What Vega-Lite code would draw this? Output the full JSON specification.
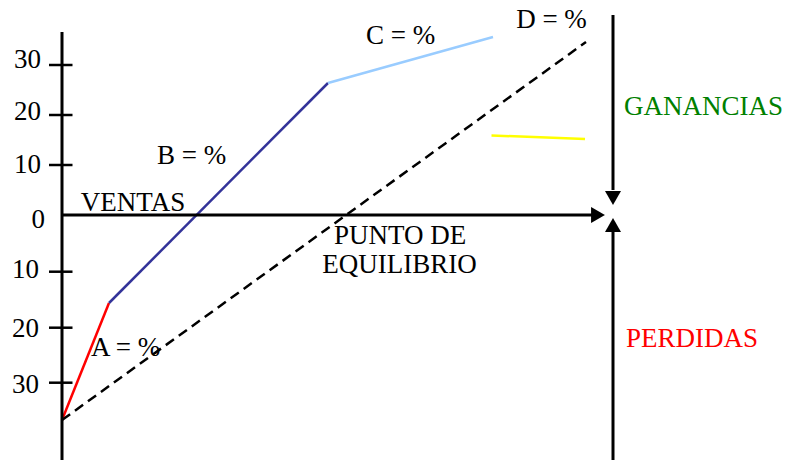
{
  "$schema": "https://vega.github.io/schema/vega-lite/v6.json",
  "width": 786,
  "height": 460,
  "padding": 0,
  "autosize": {"type": "none"},
  "background": "white",
  "config": {"view": {"stroke": null}},
  "datasets": {
    "segments": [
      {"seg": "A", "x": 0, "y": -41, "x2": 9.4, "y2": -17.6},
      {"seg": "B", "x": 9.4, "y": -17.6, "x2": 53.2, "y2": 26.4},
      {"seg": "C", "x": 53.2, "y": 26.4, "x2": 86.2, "y2": 35.6},
      {"seg": "E", "x": 85.9, "y": 15.9, "x2": 104.6, "y2": 15.2}
    ],
    "dashed": [
      {"seg": "D", "x": 0, "y": -41, "x2": 104.8, "y2": 34.6}
    ],
    "axes": [
      {"name": "eje y", "x": 0, "y": 36.6, "x2": 0, "y2": -49},
      {"name": "ventas", "x": 0, "y": 0, "x2": 106, "y2": 0},
      {"name": "ganancias", "x": 110.2, "y": 40, "x2": 110.2, "y2": 5},
      {"name": "perdidas", "x": 110.2, "y": -3.2, "x2": 110.2, "y2": -49}
    ],
    "arrows": [
      {"dir": "right", "x": 107.2, "y": 0},
      {"dir": "down", "x": 110.2, "y": 3.4},
      {"dir": "up", "x": 110.2, "y": -2.0}
    ],
    "ticks": [
      {"v": 30}, {"v": 20}, {"v": 10},
      {"v": -11.34}, {"v": -22.54}, {"v": -33.54}
    ],
    "ticklabels": [
      {"t": "30", "x": -4.2, "y": 29.5},
      {"t": "20", "x": -4.2, "y": 19.1},
      {"t": "10", "x": -4.2, "y": 8.5},
      {"t": "0", "x": -3.4, "y": -2.5},
      {"t": "10", "x": -4.6, "y": -12.5},
      {"t": "20", "x": -4.6, "y": -24.3},
      {"t": "30", "x": -4.6, "y": -35.5}
    ],
    "texts": [
      {"t": "VENTAS", "x": 14.2, "y": 0.8},
      {"t": "B = %", "x": 25.9, "y": 10.2},
      {"t": "C = %", "x": 67.7, "y": 34.2},
      {"t": "D = %", "x": 97.9, "y": 37.4},
      {"t": "PUNTO DE", "x": 67.6, "y": -5.8},
      {"t": "EQUILIBRIO", "x": 67.5, "y": -11.6},
      {"t": "GANANCIAS", "x": 128.3, "y": 20},
      {"t": "PERDIDAS", "x": 126, "y": -26.3},
      {"t": "A = %", "x": 12.7, "y": -28.2}
    ]
  },
  "layer": [
    {
      "data": {"name": "segments"},
      "mark": {"type": "rule", "strokeWidth": 2.5},
      "encoding": {
        "x": {"field": "x", "type": "quantitative", "scale": {"domain": [-12.4, 144.8], "nice": false, "zero": false}, "axis": null},
        "y": {"field": "y", "type": "quantitative", "scale": {"domain": [-49, 43], "nice": false, "zero": false}, "axis": null},
        "x2": {"field": "x2"},
        "y2": {"field": "y2"},
        "color": {"field": "seg", "type": "nominal", "scale": {"domain": ["A", "B", "C", "E"], "range": ["#ff0000", "#333399", "#99ccff", "#ffff00"]}, "legend": null}
      }
    },
    {
      "data": {"name": "dashed"},
      "mark": {"type": "rule", "strokeWidth": 2.5, "strokeDash": [10, 6], "color": "black"},
      "encoding": {
        "x": {"field": "x", "type": "quantitative"},
        "y": {"field": "y", "type": "quantitative"},
        "x2": {"field": "x2"},
        "y2": {"field": "y2"}
      }
    },
    {
      "data": {"name": "axes"},
      "mark": {"type": "rule", "strokeWidth": 3, "color": "black"},
      "encoding": {
        "x": {"field": "x", "type": "quantitative"},
        "y": {"field": "y", "type": "quantitative"},
        "x2": {"field": "x2"},
        "y2": {"field": "y2"}
      }
    },
    {
      "data": {"name": "ticks"},
      "mark": {"type": "rule", "strokeWidth": 2.5, "color": "black"},
      "encoding": {
        "x": {"datum": -2.6, "type": "quantitative"},
        "x2": {"datum": 2.1},
        "y": {"field": "v", "type": "quantitative"}
      }
    },
    {
      "data": {"name": "arrows"},
      "mark": {"type": "point", "filled": true, "opacity": 1, "size": 256, "color": "black"},
      "encoding": {
        "x": {"field": "x", "type": "quantitative"},
        "y": {"field": "y", "type": "quantitative"},
        "shape": {"field": "dir", "type": "nominal", "scale": {"domain": ["right", "down", "up"], "range": ["triangle-right", "triangle-down", "triangle-up"]}, "legend": null}
      }
    },
    {
      "data": {"name": "ticklabels"},
      "mark": {"type": "text", "font": "Liberation Serif", "fontSize": 27, "align": "right", "baseline": "alphabetic", "color": "black"},
      "encoding": {
        "x": {"field": "x", "type": "quantitative"},
        "y": {"field": "y", "type": "quantitative"},
        "text": {"field": "t"}
      }
    },
    {
      "data": {"name": "texts"},
      "mark": {"type": "text", "font": "Liberation Serif", "fontSize": 27, "align": "center", "baseline": "alphabetic"},
      "encoding": {
        "x": {"field": "x", "type": "quantitative"},
        "y": {"field": "y", "type": "quantitative"},
        "text": {"field": "t"},
        "color": {
          "condition": [
            {"test": "datum.t === 'GANANCIAS'", "value": "#008000"},
            {"test": "datum.t === 'PERDIDAS'", "value": "#ff0000"}
          ],
          "value": "black"
        }
      }
    }
  ]
}
